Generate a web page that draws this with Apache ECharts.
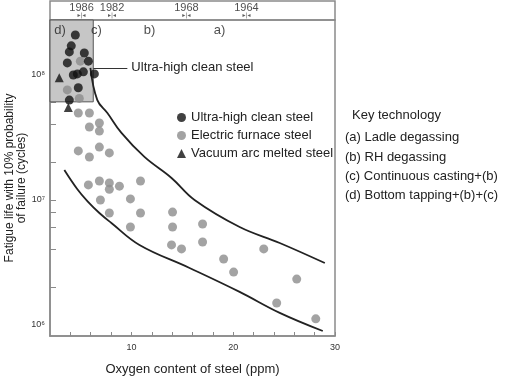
<!DOCTYPE html>
<html>
<head>
<meta charset="utf-8">
<script src="https://cdn.jsdelivr.net/npm/echarts@6/dist/echarts.min.js"></script>
<style>html,body{margin:0;padding:0;background:#fff}#c{width:506px;height:382px}</style>
</head>
<body>
<div id="c"></div>
<script>
// ---- data ----
const yTickLabels = [1e6, 1e7, 1e8];
const yMinorTicks = [2e6, 4e6, 6e6, 8e6, 1e7, 2e7, 4e7, 6e7, 8e7, 1e8, 2e8];
const xTickLabels = [10, 20, 30];
const xMinorTicks = [4, 6, 8, 10, 12, 14, 16, 18, 20, 22, 24, 26, 28, 30];

const ultraClean = [[4.49,2.09e8],[4.09,1.71e8],[3.90,1.53e8],[5.37,1.50e8],[3.70,1.25e8],[5.77,1.29e8],[5.28,1.06e8],[4.29,1.0e8],[4.69,1.02e8],[6.36,1.02e8],[4.78,7.9e7],[3.90,6.3e7]];
const electricFurnace = [[4.98,1.29e8],[3.70,7.6e7],[4.88,6.5e7],[4.78,4.97e7],[5.87,4.97e7],[5.87,3.84e7],[6.85,4.13e7],[6.85,3.56e7],[4.78,2.47e7],[5.87,2.21e7],[6.85,2.65e7],[7.83,2.38e7],[5.77,1.32e7],[6.85,1.42e7],[7.83,1.37e7],[7.83,1.22e7],[8.82,1.29e7],[10.89,1.42e7],[6.95,1.0e7],[9.90,1.02e7],[7.83,7.87e6],[10.89,7.87e6],[14.04,8.0e6],[9.90,6.08e6],[14.04,6.08e6],[16.99,6.43e6],[13.94,4.37e6],[14.92,4.06e6],[16.99,4.61e6],[19.06,3.37e6],[20.04,2.65e6],[23.0,4.06e6],[26.24,2.33e6],[24.27,1.50e6],[28.11,1.12e6]];
const vacuumArc = [[2.91,9.5e7],[3.80,5.5e7]];

const upperBound = [[5.97,1.14e8],[6.65,6.3e7],[7.64,4.97e7],[9.02,3.44e7],[11.28,2.21e7],[13.94,1.5e7],[16.2,1.0e7],[20.63,6.08e6],[24.57,4.53e6],[29.0,3.13e6]];
const lowerBound = [[3.41,1.74e7],[4.69,1.22e7],[5.67,9.8e6],[6.85,7.87e6],[8.03,6.55e6],[10.79,4.37e6],[15.71,2.86e6],[20.63,1.84e6],[24.57,1.25e6],[28.8,8.95e5]];

const yMin = 8.166e5, yMax = 2.754e8;
const cleanBox = {xFrom: 2, xTo: 6.25, yFrom: 6.1e7, yTo: yMax};
const calloutLine = [[6.25, 1.14e8], [9.6, 1.14e8]];
const calloutText = 'Ultra-high clean steel';

const eraLabels = ['d)', 'c)', 'b)', 'a)'];
const eraX = [2.98, 6.56, 11.77, 18.66];
const eraY = 2.29e8;

const yearLabels = ['1986', '1982', '1968', '1964'];
const yearX = [5.1, 8.1, 15.4, 21.3];

const keyTitle = 'Key technology';
const keyLines = ['(a) Ladle degassing', '(b) RH degassing', '(c) Continuous casting+(b)', '(d) Bottom tapping+(b)+(c)'];

const seriesNames = ['Ultra-high clean steel', 'Electric furnace steel', 'Vacuum arc melted steel'];
const xName = 'Oxygen content of steel (ppm)';
const yName = 'Fatigue life with 10% probability\nof failure (cycles)';

// ---- chart ----
const FONT = 'Liberation Sans, Arial, sans-serif';
const AX = '#8a8a8a';
const supMap = {'6':'\u2076','7':'\u2077','8':'\u2078'};
const chart = echarts.init(document.getElementById('c'), null, {renderer: 'canvas'});

const option = {
  animation: false,
  backgroundColor: '#fff',
  textStyle: {fontFamily: FONT},
  grid: [
    {left: 50, right: 171, top: 20, bottom: 46, show: true, borderColor: AX, borderWidth: 1.5, containLabel: false, outerBoundsMode: 'none'},
    {left: 50, right: 171, top: 1, height: 19, show: true, borderColor: AX, borderWidth: 1.5, containLabel: false, outerBoundsMode: 'none'}
  ],
  xAxis: [
    {type: 'value', gridIndex: 0, min: 2, max: 30,
     name: xName, nameLocation: 'middle', nameGap: 27, nameMoveOverlap: false,
     nameTextStyle: {fontSize: 13, color: '#222', fontFamily: FONT},
     axisLine: {show: true, lineStyle: {color: AX, width: 1.5}},
     axisTick: {show: true, inside: true, length: 4, customValues: xMinorTicks, lineStyle: {color: AX}},
     axisLabel: {customValues: xTickLabels, fontSize: 9, color: '#333', margin: 7, fontFamily: FONT},
     splitLine: {show: false}},
    {type: 'value', gridIndex: 1, min: 2, max: 30, show: false}
  ],
  yAxis: [
    {type: 'log', gridIndex: 0, min: yMin, max: yMax, logBase: 10,
     name: yName, nameLocation: 'middle', nameGap: 22, nameMoveOverlap: false,
     nameTextStyle: {fontSize: 12, color: '#222', lineHeight: 12, fontFamily: FONT},
     axisLine: {show: true, lineStyle: {color: AX, width: 1.5}},
     axisTick: {show: true, inside: true, length: 6, customValues: yMinorTicks, lineStyle: {color: AX}},
     axisLabel: {customValues: yTickLabels, fontSize: 9, color: '#333', margin: 5, fontFamily: FONT,
       formatter: v => '10' + supMap[String(Math.round(Math.log10(v)))]},
     splitLine: {show: false}},
    {type: 'value', gridIndex: 1, min: 0, max: 1, show: false}
  ],
  legend: {
    orient: 'vertical', left: 177, top: 111, padding: 0, itemGap: 5, itemWidth: 9, itemHeight: 9,
    textStyle: {fontSize: 13, color: '#222', fontFamily: FONT},
    data: seriesNames
  },
  series: [
    {type: 'line', name: 'upper', data: upperBound, smooth: 0.4, symbol: 'none',
     lineStyle: {color: '#222', width: 1.8}, z: 3,
     markArea: {silent: true, itemStyle: {color: '#c6c6c6', borderColor: '#555', borderWidth: 1},
       data: [[{xAxis: cleanBox.xFrom, yAxis: cleanBox.yFrom}, {xAxis: cleanBox.xTo, yAxis: cleanBox.yTo}]]},
     markLine: {silent: true, symbol: 'none', lineStyle: {color: '#333', width: 1, type: 'solid'},
       label: {show: true, position: 'end', formatter: calloutText, fontSize: 13, color: '#222', distance: 4, fontFamily: FONT},
       data: [[{coord: calloutLine[0]}, {coord: calloutLine[1]}]]}},
    {type: 'line', name: 'lower', data: lowerBound, smooth: 0.4, symbol: 'none',
     lineStyle: {color: '#222', width: 1.8}, z: 3},
    {type: 'scatter', name: seriesNames[1], data: electricFurnace, symbol: 'circle', symbolSize: 9,
     itemStyle: {color: '#8c8c8c'}, z: 4},
    {type: 'scatter', name: seriesNames[0], data: ultraClean, symbol: 'circle', symbolSize: 9,
     itemStyle: {color: '#111'}, z: 5},
    {type: 'scatter', name: seriesNames[2], data: vacuumArc, symbol: 'triangle', symbolSize: 9,
     itemStyle: {color: '#111'}, z: 5},
    {type: 'scatter', name: 'eras', data: eraX.map((x, i) => [x, eraY]), symbolSize: 0,
     label: {show: true, position: 'inside', formatter: p => eraLabels[p.dataIndex], fontSize: 13, color: '#222', fontFamily: FONT}, z: 6},
    {type: 'scatter', name: 'years', xAxisIndex: 1, yAxisIndex: 1, data: yearX.map(x => [x, 0.5]), symbolSize: 0,
     label: {show: true, position: 'inside',
       formatter: p => '{y|' + yearLabels[p.dataIndex] + '}\n{a|\u25B8|\u25C2}',
       rich: {y: {fontSize: 11, color: '#222', lineHeight: 10, fontFamily: FONT},
              a: {fontSize: 6, color: '#333', lineHeight: 6, fontFamily: 'DejaVu Sans'}}}}
  ],
  graphic: [
    {type: 'text', left: 352, top: 109, style: {text: keyTitle, fontSize: 13, fill: '#222', fontFamily: FONT}},
    {type: 'text', left: 345, top: 128, style: {text: keyLines.join('\n'), fontSize: 13, lineHeight: 19.3, fill: '#222', fontFamily: FONT}}
  ]
};
chart.setOption(option);
</script>
</body>
</html>
